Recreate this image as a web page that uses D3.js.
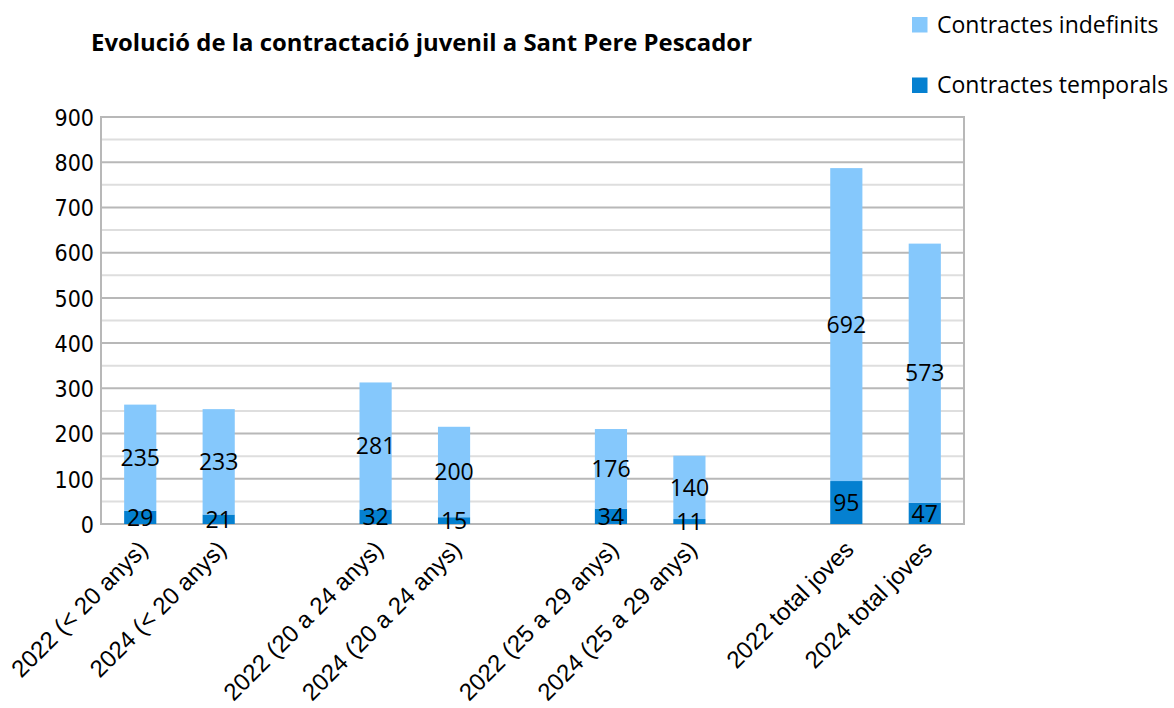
<!DOCTYPE html>
<html><head><meta charset="utf-8">
<script src="https://cdn.jsdelivr.net/npm/d3@7"></script>
<style>body{margin:0;background:#fff}</style>
</head><body>
<svg id="c" width="1174" height="708"></svg>
<script>
const categories = ["2022 (< 20 anys)","2024 (< 20 anys)","","2022 (20 a 24 anys)","2024 (20 a 24 anys)","","2022 (25 a 29 anys)","2024 (25 a 29 anys)","","2022 total joves","2024 total joves"];
const temporals = [29,21,null,32,15,null,34,11,null,95,47];
const indefinits = [235,233,null,281,200,null,176,140,null,692,573];
const yTicks = [0,100,200,300,400,500,600,700,800,900];
const seriesNames = ["Contractes indefinits","Contractes temporals"];
const title = "Evolució de la contractació juvenil a Sant Pere Pescador";

const colLight = "#85c8fc", colDark = "#0580d0";
const svg = d3.select("#c");
const L=101, R=964, T=117, B=524;
const x = d3.scaleBand().domain(d3.range(categories.length)).range([L,R]).paddingInner(0.59).paddingOuter(0.295);
const y = d3.scaleLinear().domain([0,900]).range([B,T]);
const calib = "'Open Sans', Lato, sans-serif";

// minor grid
svg.append("g").selectAll("line").data(d3.range(50,900,100)).join("line")
  .attr("x1",L).attr("x2",R).attr("y1",d=>y(d)).attr("y2",d=>y(d))
  .attr("stroke","#dedede").attr("stroke-width",2);
// major grid
svg.append("g").selectAll("line").data(yTicks).join("line")
  .attr("x1",L).attr("x2",R).attr("y1",d=>y(d)).attr("y2",d=>y(d))
  .attr("stroke","#b8b8b8").attr("stroke-width",2);
svg.append("rect").attr("x",L).attr("y",T).attr("width",R-L).attr("height",B-T)
  .attr("fill","none").attr("stroke","#b8b8b8").attr("stroke-width",2);

// y axis labels
const ya = svg.append("g").attr("transform",`translate(${L-7},0)`)
  .call(d3.axisLeft(y).tickValues(yTicks).tickSize(0).tickPadding(0));
ya.select(".domain").remove();
ya.selectAll("text").attr("font-family","'DejaVu Sans Condensed','DejaVu Sans'").attr("font-stretch","condensed")
  .attr("font-size",23).attr("fill","#000").attr("dy","0.36em");

const idx = d3.range(categories.length).filter(i=>temporals[i]!=null);
// bars
svg.append("g").selectAll("rect").data(idx).join("rect")
  .attr("x",i=>x(i)).attr("width",x.bandwidth())
  .attr("y",i=>y(temporals[i])).attr("height",i=>B-y(temporals[i])).attr("fill",colDark);
svg.append("g").selectAll("rect").data(idx).join("rect")
  .attr("x",i=>x(i)).attr("width",x.bandwidth())
  .attr("y",i=>y(temporals[i]+indefinits[i])).attr("height",i=>y(temporals[i])-y(temporals[i]+indefinits[i])).attr("fill",colLight);

// data labels
const dl = svg.append("g").attr("font-family",calib).attr("font-size",23).attr("text-anchor","middle");
dl.selectAll("text.t").data(idx).join("text").attr("class","t")
  .attr("x",i=>x(i)+x.bandwidth()/2).attr("y",i=>y(temporals[i]/2)).attr("dy","0.36em").text(i=>temporals[i]);
dl.selectAll("text.n").data(idx).join("text").attr("class","n")
  .attr("x",i=>x(i)+x.bandwidth()/2).attr("y",i=>y(temporals[i]+indefinits[i]/2)).attr("dy","0.36em").text(i=>indefinits[i]);

// x labels
svg.append("g").selectAll("text").data(idx).join("text")
  .attr("transform",i=>`translate(${x(i)+x.bandwidth()/2+3},${B+21}) rotate(-45)`)
  .attr("text-anchor","end").attr("dy","0.35em")
  .attr("font-family","'Liberation Sans', Arial, sans-serif").attr("font-size",24).text(i=>categories[i]);

// title
svg.append("text").attr("x",91).attr("y",51).attr("font-family",calib).attr("font-weight","bold")
  .attr("font-size",23).attr("textLength",661).attr("lengthAdjust","spacingAndGlyphs").text(title);

// legend
const lg = svg.append("g");
[[colLight,24.5],[colDark,85]].forEach((c,k)=>{
  lg.append("rect").attr("x",912).attr("y",c[1]-7.5).attr("width",15.5).attr("height",15.5).attr("fill",c[0]);
  lg.append("text").attr("x",937).attr("y",c[1]).attr("dy","0.36em").attr("font-family",calib)
    .attr("font-size",23).text(seriesNames[k]);
});
</script>
</body></html>
